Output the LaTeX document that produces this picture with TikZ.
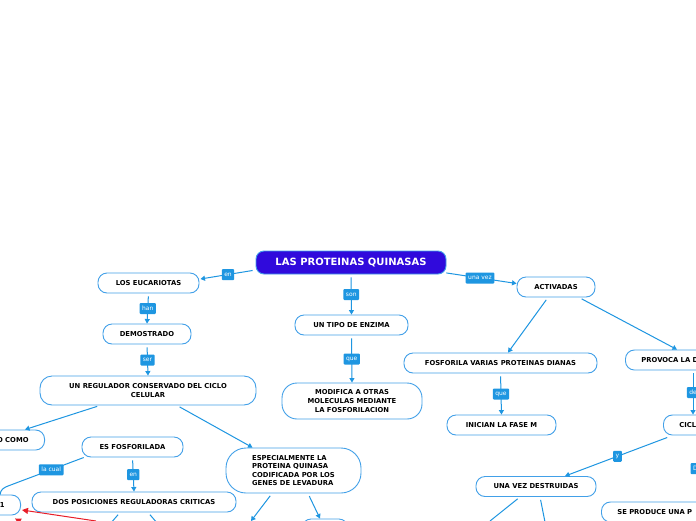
\documentclass[tikz,border=0pt]{standalone}
\usepackage{fontspec}
\setmainfont{DejaVu Sans}
\usetikzlibrary{arrows.meta}
\definecolor{edgeblue}{RGB}{30,150,225}
\definecolor{nodeborder}{RGB}{66,160,232}
\definecolor{titlefill}{RGB}{48,10,220}
\definecolor{redline}{RGB}{232,30,40}
\begin{document}
\begin{tikzpicture}[x=1pt,y=-1pt,
  box/.style={draw=nodeborder, line width=0.9pt, fill=white, rounded corners=9pt,
    font=\fontsize{6.8}{8.6}\selectfont\bfseries, inner sep=0pt, align=center,
    text=black, minimum height=20pt},
  lbl/.style={fill=edgeblue, text=white, font=\fontsize{6}{7}\selectfont,
    inner xsep=2.5pt, inner ysep=1.5pt, rounded corners=1pt, minimum height=11pt},
  edge/.style={draw=edgeblue, line width=1pt, -{Triangle[width=5pt,length=4.5pt]}, shorten <=3pt},
  plain/.style={draw=edgeblue, line width=1pt, shorten <=3pt},
  redarrow/.style={draw=redline, line width=1pt, -{Triangle[width=6pt,length=6pt]}}
]
\useasboundingbox (0,0) rectangle (696,520);
\fill[white] (0,0) rectangle (696,520);
\clip (0,0) rectangle (696,520);

% nodes
\node[box, fill=titlefill, text=white, font=\fontsize{10}{12}\selectfont\bfseries,
  minimum width=190pt, minimum height=23pt, rounded corners=8pt] (title) at (351,262.5) {LAS PROTEINAS QUINASAS};
\node[box, minimum width=101pt] (euc) at (148.5,283) {LOS EUCARIOTAS};
\node[box, minimum width=88pt] (dem) at (147,334) {DEMOSTRADO};
\node[box, minimum width=216pt, minimum height=29pt, rounded corners=12pt] (reg) at (148,390.5) {UN REGULADOR CONSERVADO DEL CICLO\\CELULAR};
\node[box, inner xsep=16pt, anchor=east] (como) at (45,440) {O COMO};
\node[box, minimum width=101pt] (fos) at (132.5,447) {ES FOSFORILADA};
\node[box, minimum width=204pt] (dos) at (134,502) {DOS POSICIONES REGULADORAS CRITICAS};
\node[box, inner xsep=16pt, anchor=east] (one) at (21,505) {1};
\node[box, minimum width=135pt, minimum height=45pt, rounded corners=20pt, align=left] (esp) at (293.5,470.5) {ESPECIALMENTE LA\\PROTEINA QUINASA\\CODIFICADA POR LOS\\GENES DE LEVADURA};
\node[box, minimum width=46pt] (levb) at (325,529) {};
\node[box, minimum width=113pt] (tipo) at (351.5,325) {UN TIPO DE ENZIMA};
\node[box, minimum width=140pt, minimum height=36pt, rounded corners=15pt] (mod) at (352,401) {MODIFICA A OTRAS\\MOLECULAS MEDIANTE\\LA FOSFORILACION};
\node[box, minimum width=78pt] (act) at (556,287) {ACTIVADAS};
\node[box, minimum width=193pt] (fdi) at (500.5,363) {FOSFORILA VARIAS PROTEINAS DIANAS};
\node[box, minimum width=109pt] (ini) at (501.5,425) {INICIAN LA FASE M};
\node[box, anchor=west, text width=80pt, align=left, inner xsep=16pt] (prov) at (625,360) {PROVOCA LA D};
\node[box, anchor=west, text width=50pt, align=left, inner xsep=16pt] (cicl) at (663,425) {CICL};
\node[box, minimum width=120pt] (uvd) at (536,486.5) {UNA VEZ DESTRUIDAS};
\node[box, anchor=west, text width=100pt, align=left, inner xsep=16pt] (sep) at (601,512) {SE PRODUCE UNA P};

% free ends
\coordinate (bend1) at (8,486);
\coordinate (d1) at (104,531);
\coordinate (d2) at (164,531);
\coordinate (e1) at (251,521);
\coordinate (r1) at (96,521);
\coordinate (r2) at (30,527);
\coordinate (u1) at (490,521);
\coordinate (u2) at (545,522);

% connectors
\draw[edge] ([shift={(0,7.5)}]title.west) -- node[lbl]{en} ([shift={(1,-4)}]euc.east);
\draw[edge] (euc.south) -- node[lbl]{han} (dem.north);
\draw[edge] (dem.south) -- node[lbl]{ser} (reg.north);
\draw[edge] ([shift={(-48,0)}]reg.south) -- ([shift={(-20,0)}]como.north east);
\draw[edge] ([shift={(29,0)}]reg.south) -- ([shift={(-41,0)}]esp.north);
\draw[plain] ([shift={(5,-1)}]fos.south west) -- node[lbl,pos=0.45]{la cual} (bend1) to[out=200,in=90] ([shift={(-2,0)}]one.north);
\draw[edge] (fos.south) -- node[lbl]{en} (dos.north);
\draw[plain] ([shift={(-14,0)}]dos.south) -- (d1);
\draw[plain] ([shift={(14,0)}]dos.south) -- (d2);
\draw[redarrow] (r1) -- ([shift={(1,5)}]one.east);
\draw[redarrow] (r2) -- ([shift={(-6,3)}]one.south east);
\draw[edge] ([shift={(-21.5,0)}]esp.south) -- (e1);
\draw[edge] ([shift={(14.5,0)}]esp.south) -- ([shift={(-5,0)}]levb.north);
\draw[edge] (title.south) -- node[lbl]{son} (tipo.north);
\draw[edge] (tipo.south) -- node[lbl]{que} (mod.north);
\draw[edge] ([shift={(-3,10)}]title.east) -- node[lbl]{una vez} ([shift={(0,-3.5)}]act.west);
\draw[edge] ([shift={(-8,0)}]act.south) -- ([shift={(7.5,0)}]fdi.north);
\draw[edge] ([shift={(23,0)}]act.south) -- ([shift={(52,0)}]prov.north west);
\draw[edge] (fdi.south) -- node[lbl]{que} (ini.north);
\draw[edge] ([shift={(68,0)}]prov.south west) -- node[lbl]{de} ([shift={(30,0)}]cicl.north west);
\draw[edge] ([shift={(7,1)}]cicl.south west) -- node[lbl]{y} ([shift={(29,0)}]uvd.north);
\draw[edge] ([shift={(37,0)}]cicl.south west) -- node[lbl, anchor=west, xshift=-10pt, text width=14pt]{D} ([shift={(99,0)}]sep.north west);
\draw[plain] ([shift={(-16,0)}]uvd.south) -- (u1);
\draw[plain] ([shift={(4,0)}]uvd.south) -- (u2);
\end{tikzpicture}
\end{document}
